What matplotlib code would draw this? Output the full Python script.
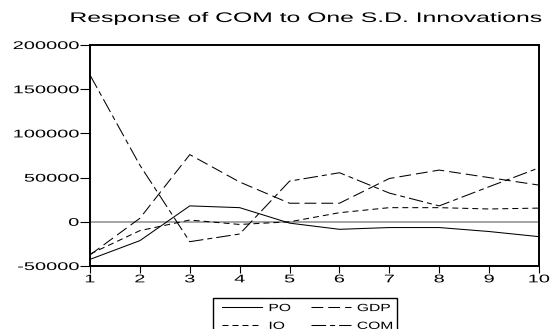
import numpy as np
import matplotlib
matplotlib.use("Agg")
import matplotlib.pyplot as plt
from matplotlib.ticker import FuncFormatter
from matplotlib.patheffects import AbstractPathEffect
from matplotlib.transforms import Affine2D
from matplotlib.path import Path

# impulse responses of COM
periods = [1, 2, 3, 4, 5, 6, 7, 8, 9, 10]
po = [-42500, -21300, 18000, 16000, -1500, -8500, -6500, -6500, -11000, -16800]
gdp = [-37500, 4000, 76000, 45000, 21000, 21000, 49000, 58500, 50000, 41500]
io = [-36500, -10000, 2000, -3000, 0, 10300, 16000, 16000, 14500, 15500]
com = [166000, 64000, -22500, -13800, 46000, 55500, 32500, 18000, 39700, 61000]

y_ticks = [-50000, 0, 50000, 100000, 150000, 200000]
title = "Response of COM to One S.D. Innovations"

plt.rcParams['font.family'] = ['Liberation Sans', 'DejaVu Sans']
plt.rcParams['lines.scale_dashes'] = False


# the EViews picture is squeezed vertically, so the glyphs look wide:
# stretch text sideways around its anchor
class Stretch(AbstractPathEffect):
    def __init__(self, sx, anchor='left'):
        super().__init__()
        self.sx = sx
        self.anchor = anchor

    def draw_path(self, renderer, gc, tpath, affine, rgbFace=None):
        ext = tpath.get_extents()
        if self.anchor == 'right':
            x0 = ext.x1
        elif self.anchor == 'center':
            x0 = (ext.x0 + ext.x1) / 2
        else:
            x0 = 0
        t = Affine2D().translate(-x0, 0).scale(self.sx, 1).translate(x0, 0)
        renderer.draw_path(gc, tpath, t + affine, rgbFace)


fig = plt.figure(figsize=(5.51, 3.29), dpi=100)
ax = fig.add_axes([90/551, 1-266/329, 449/551, 221/329])

ax.axhline(0, color='#8c8c8c', linewidth=1.1, zorder=1)

l_po, = ax.plot(periods, po, color='black', linewidth=0.75)
l_gdp, = ax.plot(periods, gdp, color='black', linewidth=0.75, dashes=(8.5, 3.6))
l_io, = ax.plot(periods, io, color='black', linewidth=0.75, dashes=(4.3, 2.9))
l_com, = ax.plot(periods, com, color='black', linewidth=0.75, dashes=(10.5, 2.9, 3.6, 2.9))

ax.set_xlim(1, 10)
ax.set_ylim(-50000, 200000)
ax.set_xticks(periods)
ax.set_yticks(y_ticks)
ax.yaxis.set_major_formatter(FuncFormatter(lambda v, p: str(int(v))))
ax.tick_params(axis='both', labelsize=8, length=7, width=0.8, color='black', direction='out')
ax.tick_params(axis='y', pad=1)
ax.tick_params(axis='x', pad=1, length=5)
for lab in ax.get_yticklabels():
    lab.set_path_effects([Stretch(1.8, 'right')])
for lab in ax.get_xticklabels():
    lab.set_path_effects([Stretch(1.8, 'center')])

for side in ['left', 'bottom', 'right', 'top']:
    ax.spines[side].set_linewidth(1.4)

fig.text(306/551, 1-18/329, title, ha='center', va='center', fontsize=10,
         path_effects=[Stretch(1.78, 'center')])


# legend frame is wider than the unstretched labels
def legend_frame(x0, y0, width, height, mutation_size):
    left = x0 - 7
    right = x0 + width + 14
    top = y0 + height + 3
    return Path([(left, y0), (right, y0), (right, top),
                 (left, top), (left, y0)], closed=True)


leg = fig.legend([l_po, l_io, l_gdp, l_com], ['PO', 'IO', 'GDP', 'COM'],
                 loc='upper left', bbox_to_anchor=(220/551, 1-301/329), ncol=2,
                 fontsize=7.5, frameon=True, fancybox=False, edgecolor='black',
                 framealpha=1, handlelength=3.85, handletextpad=0.6,
                 columnspacing=2.6, labelspacing=0.75, borderpad=0.2,
                 borderaxespad=0)
leg.get_frame().set_boxstyle(legend_frame)
leg.get_frame().set_linewidth(1.0)
for t in leg.get_texts():
    t.set_path_effects([Stretch(1.5, 'left')])

fig.savefig('out.png', dpi=100)
